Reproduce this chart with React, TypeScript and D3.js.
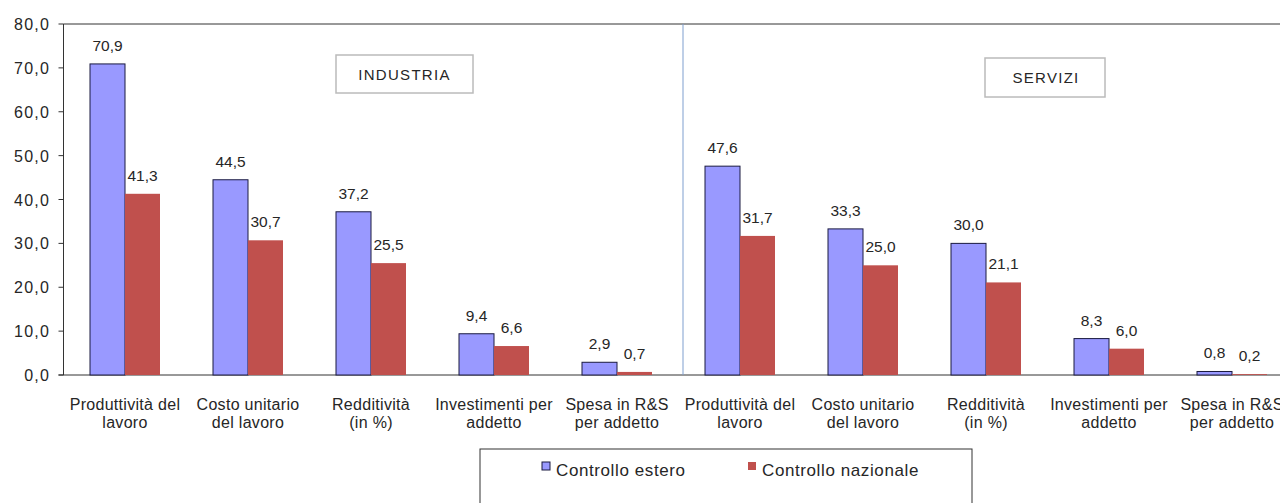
import React from "react";
import * as d3 from "d3";

const categories = [
  ["Produttività del", "lavoro"],
  ["Costo unitario", "del lavoro"],
  ["Redditività", "(in %)"],
  ["Investimenti per", "addetto"],
  ["Spesa in R&S", "per addetto"],
  ["Produttività del", "lavoro"],
  ["Costo unitario", "del lavoro"],
  ["Redditività", "(in %)"],
  ["Investimenti per", "addetto"],
  ["Spesa in R&S", "per addetto"],
];
const estero = [70.9, 44.5, 37.2, 9.4, 2.9, 47.6, 33.3, 30.0, 8.3, 0.8];
const nazionale = [41.3, 30.7, 25.5, 6.6, 0.7, 31.7, 25.0, 21.1, 6.0, 0.2];
const yTicks = [0, 10, 20, 30, 40, 50, 60, 70, 80];
const seriesNames = ["Controllo estero", "Controllo nazionale"];
const sectors = ["INDUSTRIA", "SERVIZI"];

const fmt = (v: number) => v.toFixed(1).replace(".", ",");

export default function App() {
  const W = 1280, H = 503;
  const left = 63.5, right = 1293.5, top = 24, bottom = 375;
  const x = d3.scaleBand<number>().domain(d3.range(categories.length)).range([left, right]).padding(0);
  const y = d3.scaleLinear().domain([0, 80]).range([bottom, top]);
  const bw = 35;
  const blue = "#9999FF";
  const red = "#C0504D";
  const font = "'Liberation Sans', Arial, sans-serif";
  const tc = "#262626";
  const divX = 683;
  return (
    <svg width={W} height={H} style={{ position: "absolute", left: 0, top: 0, display: "block" }} fontFamily={font}>
      <rect x={0} y={0} width={W} height={H} fill="#fff" />
      {/* plot frame */}
      <line x1={left} x2={W} y1={top} y2={top} stroke="#333" strokeWidth={1} />
      <line x1={left} x2={left} y1={top} y2={bottom} stroke="#333" strokeWidth={1} />
      <line x1={left - 5} x2={W} y1={bottom} y2={bottom} stroke="#333" strokeWidth={1} />
      {yTicks.map((t) => (
        <g key={t}>
          <line x1={left - 5} x2={left} y1={y(t)} y2={y(t)} stroke="#333" />
          <text x={50} y={y(t) + 6} textAnchor="end" fontSize={16} letterSpacing={1.2} fill={tc}>{fmt(t)}</text>
        </g>
      ))}
      {/* divider */}
      <line x1={divX} x2={divX} y1={top} y2={bottom} stroke="#7F9FCF" strokeWidth={1} />
      {categories.map((c, i) => {
        const cx = x(i)! + x.bandwidth() / 2;
        return (
          <g key={i}>
            <rect x={cx - bw} y={y(estero[i])} width={bw} height={bottom - y(estero[i])} fill={blue} stroke="#1a1a40" strokeWidth={1} />
            <rect x={cx} y={y(nazionale[i])} width={bw} height={Math.max(bottom - y(nazionale[i]), 0.8)} fill={red} />
            <text x={cx - bw / 2} y={y(estero[i]) - 13} textAnchor="middle" fontSize={15.5} fill={tc}>{fmt(estero[i])}</text>
            <text x={cx + bw / 2} y={y(nazionale[i]) - 13} textAnchor="middle" fontSize={15.5} fill={tc}>{fmt(nazionale[i])}</text>
            <text x={cx} y={410} textAnchor="middle" fontSize={16} letterSpacing={0.3} fill={tc}>{c[0]}</text>
            <text x={cx} y={428} textAnchor="middle" fontSize={16} letterSpacing={0.3} fill={tc}>{c[1]}</text>
          </g>
        );
      })}
      {/* sector boxes */}
      <rect x={336} y={55} width={137} height={38} fill="#fff" stroke="#bbb" strokeWidth={1.5} />
      <text x={404.5} y={80} textAnchor="middle" fontSize={15} letterSpacing={1.3} fill={tc}>{sectors[0]}</text>
      <rect x={985} y={58} width={120} height={39} fill="#fff" stroke="#bbb" strokeWidth={1.5} />
      <text x={1046} y={83} textAnchor="middle" fontSize={15} letterSpacing={1.3} fill={tc}>{sectors[1]}</text>
      {/* legend */}
      <rect x={480} y={449} width={492} height={70} fill="#fff" stroke="#333" strokeWidth={1} />
      <rect x={542} y={462} width={8} height={8} fill={blue} stroke="#1a1a40" strokeWidth={1} />
      <text x={556} y={476} fontSize={17} letterSpacing={0.6} fill={tc}>{seriesNames[0]}</text>
      <rect x={748} y={462} width={8} height={8} fill={red} />
      <text x={762} y={476} fontSize={17} letterSpacing={0.6} fill={tc}>{seriesNames[1]}</text>
    </svg>
  );
}
